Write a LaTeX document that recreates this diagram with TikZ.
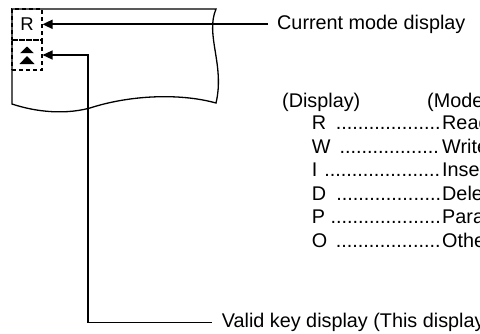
\documentclass[tikz,border=0pt]{standalone}
\usepackage{fontspec}
\setmainfont{Liberation Sans}
\usetikzlibrary{arrows.meta}
\tikzset{
  lbl/.style={inner sep=0pt, font=\fontsize{19.8}{23}\selectfont},
  cell/.style={draw, dash pattern=on 4pt off 3pt, line width=1.1pt, minimum width=30pt, minimum height=30pt, inner sep=0pt, font=\fontsize{18.5}{22}\selectfont},
  panel/.style={line width=1.3pt},
  conn/.style={line width=1.4pt, -{Triangle[length=10pt,width=9pt]}},
  connthick/.style={conn, line width=1.9pt},
}
\newcommand\dotrun[1]{\hbox to #1{\cleaders\hbox{.}\hfill}}
\begin{document}
\begin{tikzpicture}[x=1pt,y=-1pt]
\useasboundingbox (0,0) rectangle (480,333);
\clip (0,0) rectangle (480,333);
% display cells
\node[cell, minimum height=31pt] (rcell) at (27,24.5) {R};
\node[cell] (kcell) at (27,55) {};
\fill (27,46.5) -- (33.8,53.2) -- (20.2,53.2) -- cycle;
\fill (27,56) -- (34.5,64) -- (19.5,64) -- cycle;
% panel outline
\draw[panel] (12,104) -- (12,9) -- (216,9) .. controls (205,35) and (225,65) .. (216,103)
  .. controls (180,93) and (130,95) .. (90,108) .. controls (60,116) and (30,110) .. (12,104) -- cycle;
% labels and connectors
\node[lbl, anchor=west, inner xsep=9pt] (cur) at (268,24.3) {Current mode display};
\draw[connthick] (cur.west) -- (cur.west -| rcell.east);
\node[lbl, anchor=west, inner xsep=10pt] (valid) at (211.7,322.7) {Valid key display (This display};
\coordinate (bend) at (88,0);
\draw[conn] (valid.west) -| (bend |- kcell.east) -- (kcell.east);
% table
\node[lbl, anchor=base west] (hd) at (282,107) {(Display)};
\node[lbl, anchor=base west] (hm) at (427,107) {(Mode)};
\foreach \k/\m/\y/\s in {R/Read/129.5/335, W/Write/153/337, I/Insert/176.5/323, D/Delete/200/336, P/Parameter/223.5/330, O/Other/247/335}{
  \node[lbl, anchor=base west] (k\k) at (311.7,\y) {\k};
  \node[lbl, anchor=base west] (d\k) at (\s,\y) {\dotrun{\dimexpr 441pt-\s pt\relax}};
  \node[lbl, anchor=base west] (m\k) at (442,\y) {\m};
}
\end{tikzpicture}
\end{document}
